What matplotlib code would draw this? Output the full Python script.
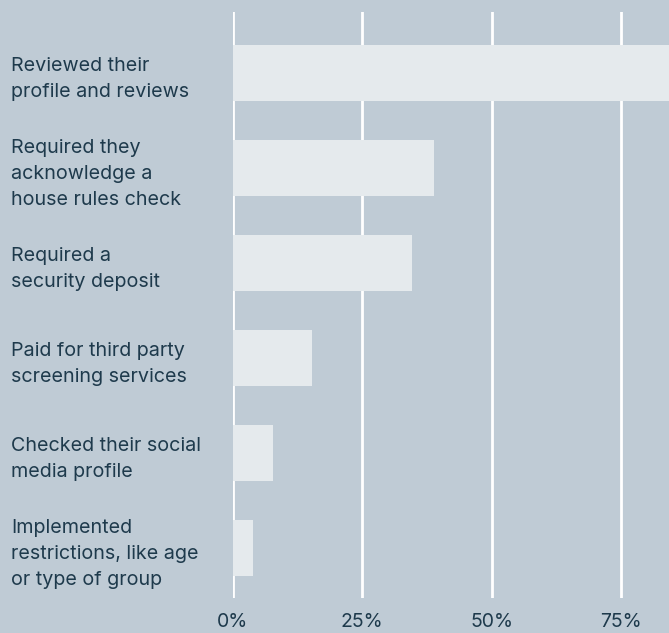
import matplotlib
matplotlib.use("Agg")
import matplotlib.pyplot as plt
from matplotlib.transforms import blended_transform_factory

categories = [
    "Reviewed their\nprofile and reviews",
    "Required they\nacknowledge a\nhouse rules check",
    "Required a\nsecurity deposit",
    "Paid for third party\nscreening services",
    "Checked their social\nmedia profile",
    "Implemented\nrestrictions, like age\nor type of group",
]
values = [86.0, 38.9, 34.6, 15.3, 7.7, 3.9]
tick_values = [0, 25, 50, 75]
tick_labels = ["0%", "25%", "50%", "75%"]

BG = "#bfcbd5"
BAR = "#e5eaed"
TXT = "#1e3a4c"

plt.rcParams['font.family'] = ['Inter', 'DejaVu Sans']

fig = plt.figure(figsize=(6.69, 6.33), dpi=100, facecolor=BG)
ax = fig.add_axes([233/669, 1-598/633, 1-233/669, (598-12)/633])
ax.set_facecolor(BG)

ypos = list(range(len(categories)))
ax.barh(ypos, values, height=0.59, color=BAR, zorder=1)
for t in tick_values:
    ax.axvline(t, color="white", lw=2, zorder=0.5)

ax.set_xlim(0, 84.3)
ax.set_ylim(5.527, -0.648)
ax.set_xticks(tick_values)
ax.set_xticklabels(tick_labels, fontsize=14, color=TXT)
ax.tick_params(axis="x", length=0, pad=11)
ax.set_yticks([])
for s in ax.spines.values():
    s.set_visible(False)

tr = blended_transform_factory(fig.transFigure, ax.transData)
for y, lab in zip(ypos, categories):
    ax.text(11/669, y + 0.06, lab, transform=tr,
            ha="left", va="center", fontsize=14.2, color=TXT, linespacing=1.56)

fig.savefig("out.png", dpi=100, facecolor=BG)
